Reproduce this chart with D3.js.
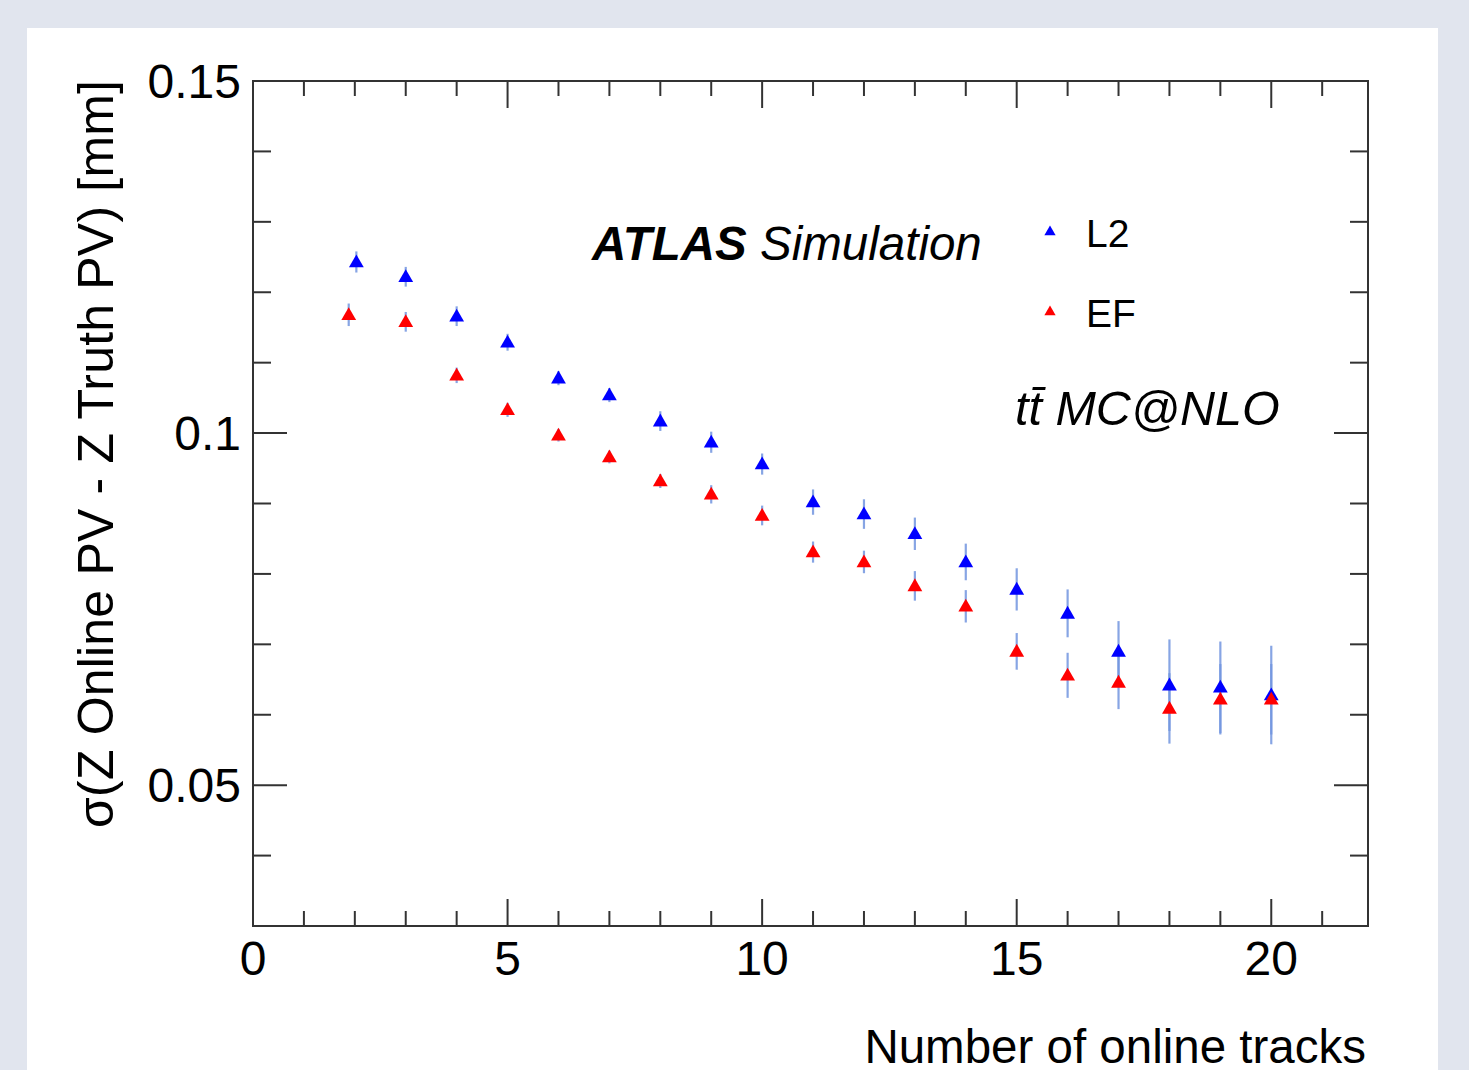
<!DOCTYPE html>
<html>
<head>
<meta charset="utf-8">
<script src="https://cdn.jsdelivr.net/npm/d3@7"></script>
<style>
  body { margin: 0; background: #e1e5ee; }
  svg { display: block; font-family: "Liberation Sans", Arial, sans-serif; }
</style>
</head>
<body>
<svg class="chart"></svg>
<script>
// number of online tracks
var tracksL2 = [2.03, 3, 4, 5, 6, 7, 8, 9, 10, 11, 12, 13, 14, 15, 16, 17, 18, 19, 20];
var tracksEF = [1.88, 3, 4, 5, 6, 7, 8, 9, 10, 11, 12, 13, 14, 15, 16, 17, 18, 19, 20];

// sigma(z) in mm and its error
var sigmaL2 = [0.1243, 0.1222, 0.1166, 0.1129, 0.1078, 0.1054, 0.1017, 0.0987, 0.0956, 0.0902,
               0.0885, 0.0857, 0.0817, 0.0778, 0.0744, 0.0690, 0.0642, 0.0639, 0.0628];
var errL2   = [0.0015, 0.0014, 0.0014, 0.0012, 0.0010, 0.0010, 0.0014, 0.0015, 0.0015, 0.0018,
               0.0021, 0.0023, 0.0026, 0.0030, 0.0034, 0.0043, 0.0065, 0.0065, 0.0070];
var sigmaEF = [0.1168, 0.1158, 0.1082, 0.1033, 0.0997, 0.0966, 0.0932, 0.0913, 0.0883, 0.0831,
               0.0817, 0.0783, 0.0754, 0.0690, 0.0656, 0.0646, 0.0609, 0.0622, 0.0622];
var errEF   = [0.0016, 0.0014, 0.0011, 0.0010, 0.0009, 0.0009, 0.0010, 0.0013, 0.0014, 0.0015,
               0.0016, 0.0021, 0.0023, 0.0026, 0.0032, 0.0038, 0.0050, 0.0050, 0.0050];

var xMajor = [0, 5, 10, 15, 20];
var yMajor = [0.05, 0.1, 0.15];
var yLabels = ['0.05', '0.1', '0.15'];

var width = 1469, height = 1070;
var chart = d3.select('.chart').attr('width', width).attr('height', height);

// white pad
chart.append('rect')
  .attr('x', 27).attr('y', 28)
  .attr('width', 1411).attr('height', height - 28)
  .attr('fill', '#fff');

var padL = 253, padR = 1368, padT = 81, padB = 926;

var x = d3.scaleLinear().domain([0, 21.9]).range([padL, padR]);
var y = d3.scaleLinear().domain([0.03, 0.15]).range([padB, padT]);

var frameColor = '#333';

// minor ticks (inside the frame, on all four sides)
var xMinor = d3.range(0, 22, 1).filter(v => v % 5 !== 0);
var yMinor = d3.range(3, 16, 1).filter(v => v % 5 !== 0).map(v => v / 100);

var ticks = chart.append('g').attr('stroke', frameColor).attr('stroke-width', 2);

function xTick(v, len) {
  ticks.append('line').attr('x1', x(v)).attr('x2', x(v)).attr('y1', padB).attr('y2', padB - len);
  ticks.append('line').attr('x1', x(v)).attr('x2', x(v)).attr('y1', padT).attr('y2', padT + len);
}
function yTick(v, len) {
  ticks.append('line').attr('y1', y(v)).attr('y2', y(v)).attr('x1', padL).attr('x2', padL + len);
  ticks.append('line').attr('y1', y(v)).attr('y2', y(v)).attr('x1', padR).attr('x2', padR - len);
}
xMinor.forEach(v => xTick(v, 15));
xMajor.forEach(v => xTick(v, 27));
yMinor.forEach(v => yTick(v, 18));
yMajor.forEach(v => yTick(v, 34));

// frame
chart.append('rect')
  .attr('x', padL).attr('y', padT)
  .attr('width', padR - padL).attr('height', padB - padT)
  .attr('fill', 'none').attr('stroke', frameColor).attr('stroke-width', 2);

// tick labels
chart.append('g').selectAll('text')
  .data(xMajor).enter().append('text')
  .attr('x', d => x(d)).attr('y', 975)
  .attr('text-anchor', 'middle')
  .attr('font-size', 48)
  .text(d => d);

chart.append('g').selectAll('text')
  .data(yMajor).enter().append('text')
  .attr('x', 241).attr('y', d => y(d) + 17)
  .attr('text-anchor', 'end')
  .attr('font-size', 48)
  .text((d, i) => yLabels[i]);

// axis titles
chart.append('text')
  .attr('x', 1366).attr('y', 1063)
  .attr('text-anchor', 'end')
  .attr('font-size', 47.5)
  .text('Number of online tracks');

chart.append('text')
  .attr('transform', 'translate(113,80) rotate(-90)')
  .attr('text-anchor', 'end')
  .attr('font-size', 50)
  .attr('textLength', 748)
  .text('σ(Z Online PV - Z Truth PV) [mm]');

// data
var series = [
  { name: 'L2', color: '#0000ff', xs: tracksL2, ys: sigmaL2, es: errL2 },
  { name: 'EF', color: '#ff0000', xs: tracksEF, ys: sigmaEF, es: errEF }
];

var errColor = '#7396e0';
var tri = d3.symbol().type(d3.symbolTriangle).size(95);
var triSmall = d3.symbol().type(d3.symbolTriangle).size(55);

series.forEach(s => {
  var pts = s.xs.map((v, i) => ({ x: v, y: s.ys[i], e: s.es[i] }));
  chart.append('g').selectAll('line')
    .data(pts).enter().append('line')
    .attr('x1', d => x(d.x)).attr('x2', d => x(d.x))
    .attr('y1', d => y(d.y + d.e)).attr('y2', d => y(d.y - d.e))
    .attr('stroke', errColor).attr('stroke-width', 2.2).attr('opacity', 0.85);
});
series.forEach(s => {
  var pts = s.xs.map((v, i) => ({ x: v, y: s.ys[i] }));
  chart.append('g').selectAll('path')
    .data(pts).enter().append('path')
    .attr('d', tri)
    .attr('transform', d => 'translate(' + x(d.x) + ',' + (y(d.y) + 1) + ')')
    .attr('fill', s.color);
});

// legend
var legend = chart.append('g');
series.forEach((s, i) => {
  var ly = 232 + i * 80;
  legend.append('path').attr('d', triSmall)
    .attr('transform', 'translate(1050,' + ly + ')')
    .attr('fill', s.color);
  legend.append('text')
    .attr('x', 1086).attr('y', ly + 15)
    .attr('font-size', 39)
    .text(s.name);
});

// labels
var atlas = chart.append('text')
  .attr('x', 592).attr('y', 260)
  .attr('font-size', 47.5)
  .attr('font-style', 'italic');
atlas.append('tspan').attr('font-weight', 'bold').text('ATLAS');
atlas.append('tspan').text(' Simulation');

chart.append('text')
  .attr('x', 1015).attr('y', 425)
  .attr('font-size', 48.5)
  .attr('font-style', 'italic')
  .text('tt\u0304 MC@NLO');
</script>
</body>
</html>
